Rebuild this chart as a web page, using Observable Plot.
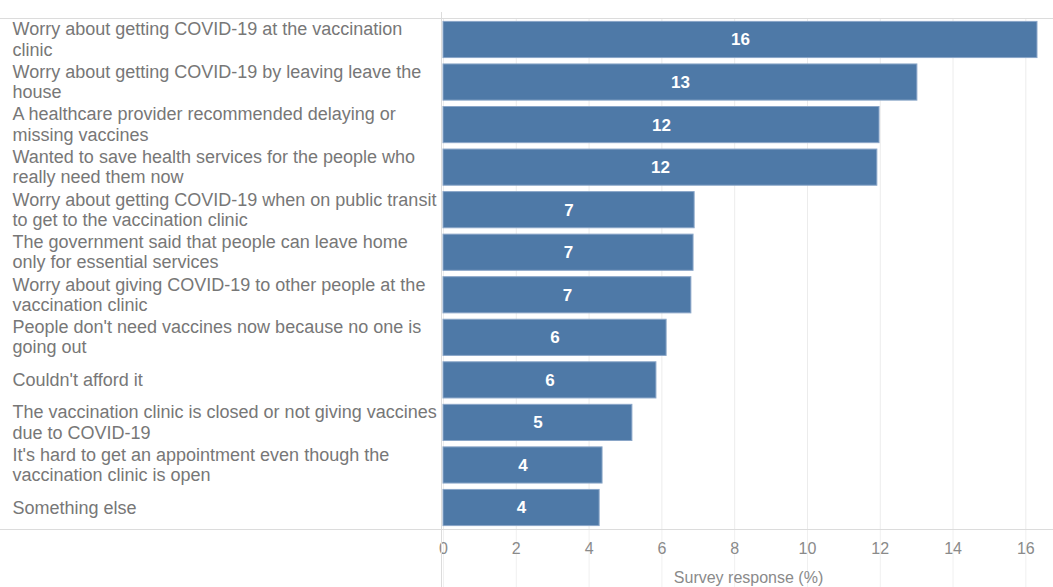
<!DOCTYPE html>
<html>
<head>
<meta charset="utf-8">
<script src="https://cdn.jsdelivr.net/npm/d3@7"></script>
<script src="https://cdn.jsdelivr.net/npm/@observablehq/plot@0.6"></script>
<style>
  html, body { margin: 0; padding: 0; background: #fff; }
  #chart svg { display: block; font-family: "Liberation Sans", Arial, sans-serif; }
</style>
</head>
<body>
<div id="chart"></div>
<script>
const categories = [
  "Worry about getting COVID-19 at the vaccination\nclinic",
  "Worry about getting COVID-19 by leaving leave the\nhouse",
  "A healthcare provider recommended delaying or\nmissing vaccines",
  "Wanted to save health services for the people who\nreally need them now",
  "Worry about getting COVID-19 when on public transit\nto get to the vaccination clinic",
  "The government said that people can leave home\nonly for essential services",
  "Worry about giving COVID-19 to other people at the\nvaccination clinic",
  "People don't need vaccines now because no one is\ngoing out",
  "Couldn't afford it",
  "The vaccination clinic is closed or not giving vaccines\ndue to COVID-19",
  "It's hard to get an appointment even though the\nvaccination clinic is open",
  "Something else"
];
const values = [16.32, 13.02, 11.98, 11.92, 6.90, 6.87, 6.81, 6.13, 5.85, 5.19, 4.37, 4.29];
const xTicks = [0, 2, 4, 6, 8, 10, 12, 14, 16];
const xLabel = "Survey response (%)";

const data = categories.map((c, i) => ({label: c, value: values[i]}));

const W = 1053, H = 587, mL = 443, mT = 18, mB = 58;
const font = "Liberation Sans, Arial, sans-serif";

const plot = Plot.plot({
  width: W,
  height: H,
  marginLeft: mL,
  marginRight: 0,
  marginTop: mT,
  marginBottom: mB,
  style: {fontFamily: font, background: "#fff"},
  x: {domain: [0, 16.76]},
  y: {domain: categories, paddingInner: 0.15, paddingOuter: 0.08, round: false},
  marks: [
    Plot.gridX({ticks: xTicks, stroke: "#ececec", strokeOpacity: 1}),
    Plot.axisX({ticks: xTicks, tickSize: 58, tickFormat: () => "", stroke: "#f0f0f0", label: null}),
    Plot.axisX({ticks: xTicks, tickSize: 0, tickPadding: 13, fontSize: 16, color: "#8a8a8a",
      label: xLabel, labelAnchor: "center", labelOffset: 53, labelArrow: "none"}),
    Plot.axisY({ticks: [], label: null}),
    Plot.barX(data, {x: "value", y: "label", fill: "#4e79a7", stroke: "#8aa6c8", strokeWidth: 1}),
    Plot.text(data, {x: d => d.value / 2, y: "label", text: d => String(Math.round(d.value)),
      fill: "#fff", fontWeight: "bold", fontSize: 17}),
    Plot.text(data, {y: "label", text: "label", frameAnchor: "left", textAnchor: "start",
      dx: -431, dy: -1, fontSize: 18, fill: "#777", lineHeight: 1.13, lineAnchor: "middle"})
  ]
});

// light frame lines spanning the whole view
const svg = d3.select(plot);
const x0 = plot.scale("x").apply(0);
const g = svg.append("g").attr("stroke", "#dcdcdc").attr("stroke-width", 1);
g.append("line").attr("x1", 0).attr("x2", W).attr("y1", mT + 0.5).attr("y2", mT + 0.5);
g.append("line").attr("x1", 0).attr("x2", W).attr("y1", H - mB + 0.5).attr("y2", H - mB + 0.5);
g.append("line").attr("x1", x0 - 1.5).attr("x2", x0 - 1.5).attr("y1", 12).attr("y2", H);

document.getElementById("chart").appendChild(plot);
</script>
</body>
</html>
